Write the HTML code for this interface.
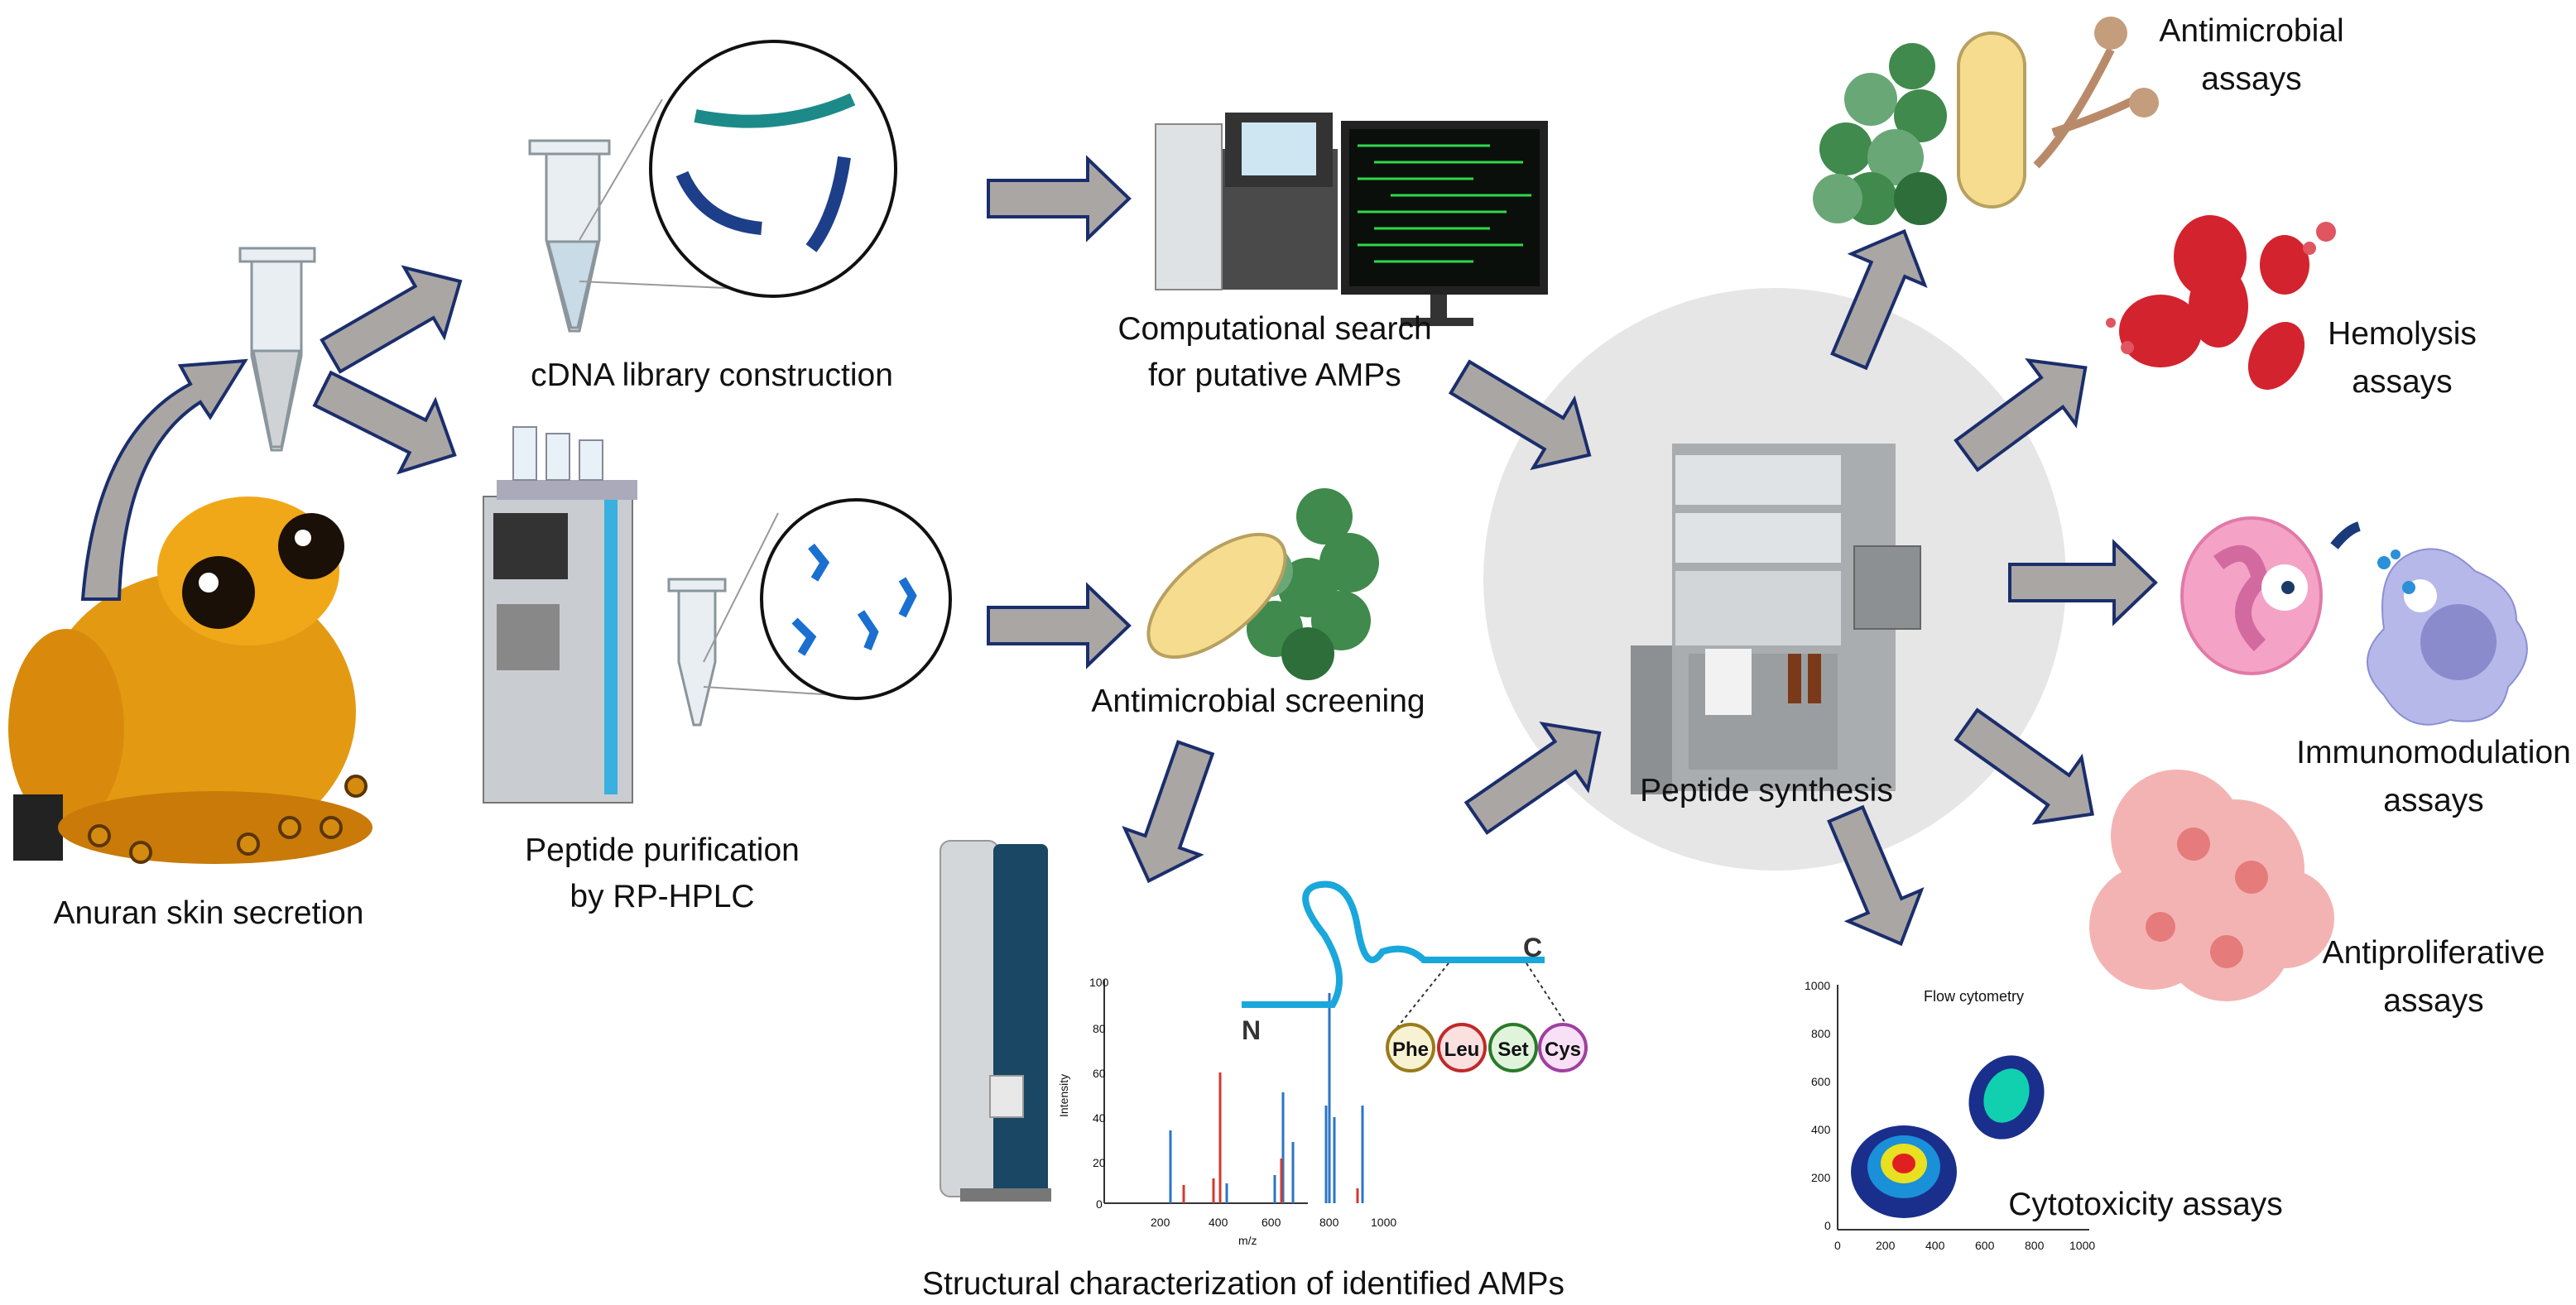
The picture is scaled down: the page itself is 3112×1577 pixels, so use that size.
<!DOCTYPE html>
<html><head><meta charset="utf-8"><style>
html,body{margin:0;padding:0;background:#fff;width:3112px;height:1577px;overflow:hidden}
svg{display:block}
text{font-family:"Liberation Sans",sans-serif;fill:#111}
.lb{font-size:19.5px;text-anchor:middle}
.ar path{fill:#aaa6a4;stroke:#1b2e6c;stroke-width:2;stroke-linejoin:miter}
</style></head><body>
<svg width="3112" height="1577" viewBox="0 0 1556 788.5" preserveAspectRatio="none">
<!-- central circle -->
<circle cx="1072" cy="350" r="176" fill="#e6e6e6"/>

<!-- frog -->
<g>
<ellipse cx="120" cy="430" rx="95" ry="85" fill="#e39a12"/>
<ellipse cx="150" cy="345" rx="55" ry="45" fill="#f0a818"/>
<circle cx="132" cy="358" r="22" fill="#1a1008"/><circle cx="188" cy="330" r="20" fill="#1a1008"/>
<circle cx="126" cy="352" r="6" fill="#fff"/><circle cx="183" cy="325" r="5" fill="#fff"/>
<ellipse cx="40" cy="440" rx="35" ry="60" fill="#d98a0c"/>
<rect x="8" y="480" width="30" height="40" fill="#222"/>
<ellipse cx="130" cy="500" rx="95" ry="22" fill="#c97a08"/>
<g fill="#d58b10" stroke="#5a3505" stroke-width="2"><circle cx="60" cy="505" r="6"/><circle cx="85" cy="515" r="6"/><circle cx="150" cy="510" r="6"/><circle cx="175" cy="500" r="6"/><circle cx="215" cy="475" r="6"/><circle cx="200" cy="500" r="6"/></g>
</g>

<!-- tube left -->
<g fill="#e8eef2" stroke="#8a959c" stroke-width="1.5">
<rect x="145" y="150" width="45" height="8"/>
<path d="M152,158 L182,158 L182,215 L170,272 L164,272 L152,215 Z"/>
<path d="M153,212 L181,212 L170,270 L164,270 Z" fill="#cfd3d6"/>
</g>
<!-- tube cDNA -->
<g fill="#e8eef2" stroke="#8a959c" stroke-width="1.5">
<rect x="320" y="85" width="48" height="8"/>
<path d="M330,93 L362,93 L362,145 L350,200 L344,200 L330,145 Z"/>
<path d="M331,146 L361,146 L349,198 L345,198Z" fill="#c8dbe6"/>
</g>
<line x1="350" y1="145" x2="400" y2="60" stroke="#999" stroke-width="1"/>
<line x1="350" y1="170" x2="460" y2="175" stroke="#999" stroke-width="1"/>
<ellipse cx="467" cy="102" rx="74" ry="77" fill="#fff" stroke="#111" stroke-width="2"/>
<g fill="none" stroke-width="8">
<path d="M420,70 Q470,80 515,60" stroke="#1d8a8a"/>
<path d="M412,105 Q425,135 460,138" stroke="#1d3f8a"/>
<path d="M510,95 Q505,130 490,150" stroke="#1d3f8a"/>
</g>

<!-- HPLC -->
<g>
<rect x="292" y="300" width="90" height="185" fill="#c9cdd1" stroke="#777"/>
<rect x="298" y="310" width="45" height="40" fill="#333"/>
<rect x="300" y="365" width="38" height="40" fill="#888"/>
<rect x="365" y="300" width="8" height="180" fill="#3ab0e0"/>
<rect x="300" y="290" width="85" height="12" fill="#aab"/>
<g fill="#e8f0f8" stroke="#889"><rect x="310" y="258" width="14" height="32"/><rect x="330" y="262" width="14" height="28"/><rect x="350" y="266" width="14" height="24"/></g>
</g>
<g fill="#e8eef2" stroke="#8a959c" stroke-width="1.5">
<rect x="404" y="350" width="34" height="7"/>
<path d="M410,357 L432,357 L432,400 L423,438 L419,438 L410,400Z"/>
</g>
<line x1="425" y1="400" x2="470" y2="310" stroke="#999"/><line x1="425" y1="415" x2="505" y2="420" stroke="#999"/>
<ellipse cx="517" cy="362" rx="57" ry="60" fill="#fff" stroke="#111" stroke-width="2"/>
<g fill="none" stroke="#1a6fd0" stroke-width="5"><path d="M490,330 l8,10 l-6,10"/><path d="M480,375 l10,10 l-6,10"/><path d="M520,370 l8,12 l-4,10"/><path d="M545,350 l6,10 l-6,12"/></g>

<!-- computer -->
<g>
<rect x="698" y="90" width="110" height="85" fill="#4a4a4a"/>
<rect x="698" y="75" width="40" height="100" fill="#dfe2e5" stroke="#888"/>
<rect x="740" y="68" width="65" height="45" fill="#333"/><rect x="750" y="74" width="45" height="32" fill="#cde6f2"/>
<rect x="810" y="73" width="125" height="105" fill="#222"/>
<rect x="815" y="78" width="115" height="95" fill="#0b0f0b"/>
<g stroke="#2fd84a" stroke-width="1.5"><line x1="820" y1="88" x2="900" y2="88"/><line x1="830" y1="98" x2="920" y2="98"/><line x1="820" y1="108" x2="890" y2="108"/><line x1="840" y1="118" x2="925" y2="118"/><line x1="820" y1="128" x2="910" y2="128"/><line x1="830" y1="138" x2="900" y2="138"/><line x1="820" y1="148" x2="920" y2="148"/><line x1="830" y1="158" x2="890" y2="158"/></g>
<rect x="864" y="178" width="10" height="15" fill="#333"/><rect x="846" y="192" width="44" height="5" fill="#333"/>
</g>

<!-- antimicrobial screening -->
<g fill="#3f8a4c"><circle cx="800" cy="312" r="17"/><circle cx="815" cy="340" r="18"/><circle cx="790" cy="355" r="18"/><circle cx="810" cy="375" r="18"/><circle cx="770" cy="380" r="17"/><circle cx="790" cy="395" r="16" fill="#2d6e3a"/><circle cx="765" cy="345" r="16" fill="#6aa777"/></g>
<ellipse cx="735" cy="360" rx="24" ry="50" transform="rotate(50 735 360)" fill="#f5dc8e" stroke="#b8a060" stroke-width="2"/>

<!-- synthesizer -->
<g>
<rect x="1010" y="268" width="135" height="210" fill="#a9adb0"/>
<rect x="1012" y="275" width="100" height="30" fill="#e0e3e6"/>
<rect x="1012" y="310" width="100" height="30" fill="#e0e3e6"/>
<rect x="1012" y="345" width="100" height="45" fill="#d3d6d9"/>
<rect x="1120" y="330" width="40" height="50" fill="#8c9093" stroke="#666"/>
<rect x="985" y="390" width="25" height="90" fill="#8c9093"/>
<rect x="1020" y="395" width="90" height="70" fill="#9a9ea1"/>
<rect x="1030" y="392" width="28" height="40" fill="#f2f2f2"/>
<rect x="1080" y="395" width="8" height="30" fill="#7a3a1a"/><rect x="1092" y="395" width="8" height="30" fill="#7a3a1a"/>
</g>

<!-- antimicrobial assays -->
<g fill="#3f8a4c"><circle cx="1155" cy="40" r="14"/><circle cx="1130" cy="60" r="16" fill="#6aa777"/><circle cx="1160" cy="70" r="16"/><circle cx="1115" cy="90" r="16"/><circle cx="1145" cy="95" r="17" fill="#6aa777"/><circle cx="1130" cy="120" r="16"/><circle cx="1160" cy="120" r="16" fill="#2d6e3a"/><circle cx="1110" cy="120" r="15" fill="#6aa777"/></g>
<rect x="1183" y="20" width="40" height="105" rx="20" fill="#f5dc8e" stroke="#b8a060" stroke-width="2"/>
<g stroke="#b98a6a" stroke-width="5" fill="none"><path d="M1230,100 Q1250,80 1275,30"/><path d="M1240,80 Q1270,70 1290,60"/></g>
<circle cx="1275" cy="20" r="10" fill="#c49d7c"/><circle cx="1295" cy="62" r="9" fill="#c49d7c"/>

<!-- RBCs -->
<g fill="#d3232e"><ellipse cx="1335" cy="155" rx="22" ry="25"/><ellipse cx="1305" cy="200" rx="25" ry="22"/><ellipse cx="1340" cy="185" rx="18" ry="25"/><ellipse cx="1375" cy="215" rx="15" ry="22" transform="rotate(30 1375 215)"/><ellipse cx="1380" cy="160" rx="15" ry="18"/></g>
<g fill="#e05560"><circle cx="1285" cy="210" r="4"/><circle cx="1275" cy="195" r="3"/><circle cx="1405" cy="140" r="6"/><circle cx="1395" cy="150" r="4"/></g>

<!-- immune cells -->
<ellipse cx="1360" cy="360" rx="42" ry="47" fill="#f4a2c6" stroke="#e07aa8" stroke-width="2"/>
<path d="M1340,340 q20,-15 25,10 q-20,20 0,40" fill="none" stroke="#d26aa0" stroke-width="10"/>
<circle cx="1380" cy="355" r="14" fill="#fff"/><circle cx="1382" cy="355" r="4" fill="#1a3a6a"/>
<path d="M1455,335 q20,-10 40,10 q25,10 25,30 q15,20 -5,40 q-5,25 -35,20 q-25,10 -40,-15 q-20,-20 0,-40 q-5,-35 15,-45z" fill="#b6b8ea" stroke="#8c8fd2"/>
<circle cx="1485" cy="388" r="23" fill="#8a8bcc"/>
<circle cx="1462" cy="360" r="10" fill="#fff"/>
<g fill="#2a90d8"><circle cx="1440" cy="340" r="4"/><circle cx="1455" cy="355" r="4"/><circle cx="1447" cy="335" r="3"/></g>
<path d="M1410,330 q8,-10 15,-12" stroke="#1a3a7a" stroke-width="6" fill="none"/>

<!-- cancer cells -->
<g fill="#f2a6a6" opacity="0.85"><circle cx="1315" cy="505" r="40"/><circle cx="1350" cy="525" r="42"/><circle cx="1300" cy="560" r="38"/><circle cx="1345" cy="565" r="40"/><circle cx="1380" cy="555" r="30"/></g>
<g fill="#e57b7b"><circle cx="1325" cy="510" r="10"/><circle cx="1360" cy="530" r="10"/><circle cx="1305" cy="560" r="9"/><circle cx="1345" cy="575" r="10"/></g>

<!-- mass spec instrument -->
<rect x="568" y="508" width="35" height="215" rx="6" fill="#d4d7da" stroke="#999"/>
<rect x="600" y="510" width="33" height="212" rx="4" fill="#1a4763"/>
<rect x="598" y="650" width="20" height="25" fill="#e8e8e8" stroke="#999"/>
<rect x="580" y="718" width="55" height="8" fill="#777"/>
<!-- MS chart -->
<g font-size="7" fill="#555">
<line x1="667" y1="592" x2="667" y2="727" stroke="#333"/><line x1="667" y1="727" x2="790" y2="727" stroke="#333"/>
<text x="658" y="596" font-size="7">100</text><text x="660" y="624" font-size="7">80</text><text x="660" y="651" font-size="7">60</text><text x="660" y="678" font-size="7">40</text><text x="660" y="705" font-size="7">20</text><text x="662" y="730" font-size="7">0</text>
<text x="695" y="741" font-size="7">200</text><text x="730" y="741" font-size="7">400</text><text x="762" y="741" font-size="7">600</text><text x="797" y="741" font-size="7">800</text><text x="828" y="741" font-size="7">1000</text>
<text x="748" y="752" font-size="7">m/z</text>
<text x="645" y="675" font-size="7" transform="rotate(-90 645 675)">Intensity</text>
</g>
<g stroke="#2b74c7" stroke-width="1.5"><line x1="707" y1="727" x2="707" y2="683"/><line x1="775" y1="727" x2="775" y2="660"/><line x1="781" y1="727" x2="781" y2="690"/><line x1="803" y1="727" x2="803" y2="600"/><line x1="801" y1="727" x2="801" y2="668"/><line x1="806" y1="727" x2="806" y2="675"/><line x1="823" y1="727" x2="823" y2="668"/><line x1="741" y1="727" x2="741" y2="715"/><line x1="770" y1="727" x2="770" y2="710"/></g>
<g stroke="#d23a2e" stroke-width="1.5"><line x1="737" y1="727" x2="737" y2="648"/><line x1="715" y1="727" x2="715" y2="716"/><line x1="733" y1="727" x2="733" y2="712"/><line x1="774" y1="727" x2="774" y2="700"/><line x1="820" y1="727" x2="820" y2="718"/></g>
<!-- peptide -->
<path d="M750,607 L805,607 Q815,590 800,565 Q780,540 795,535 Q815,530 820,560 Q825,590 835,575 Q850,570 860,580 L933,580" fill="none" stroke="#1aa7dc" stroke-width="4"/>
<text x="750" y="628" font-size="16" font-weight="bold" style="fill:#333">N</text>
<text x="920" y="578" font-size="16" font-weight="bold" style="fill:#333">C</text>
<g stroke="#333" stroke-dasharray="2,2"><line x1="875" y1="582" x2="843" y2="622"/><line x1="922" y1="582" x2="948" y2="622"/></g>
<g font-size="12" font-weight="bold" text-anchor="middle">
<circle cx="852" cy="633" r="14" fill="#f7f2d2" stroke="#9a7a1a" stroke-width="2"/><text x="852" y="638">Phe</text>
<circle cx="883" cy="633" r="14" fill="#fbe0e0" stroke="#c02a2a" stroke-width="2"/><text x="883" y="638">Leu</text>
<circle cx="914" cy="633" r="14" fill="#e0f4dc" stroke="#2a7a2a" stroke-width="2"/><text x="914" y="638">Set</text>
<circle cx="944" cy="633" r="14" fill="#f8e0f6" stroke="#a040a0" stroke-width="2"/><text x="944" y="638">Cys</text>
</g>
<!-- flow cytometry -->
<g font-size="7" fill="#555">
<line x1="1110" y1="595" x2="1110" y2="743" stroke="#333"/><line x1="1110" y1="743" x2="1262" y2="743" stroke="#333"/>
<text x="1090" y="598" font-size="7">1000</text><text x="1094" y="627" font-size="7">800</text><text x="1094" y="656" font-size="7">600</text><text x="1094" y="685" font-size="7">400</text><text x="1094" y="714" font-size="7">200</text><text x="1102" y="743" font-size="7">0</text>
<text x="1108" y="755" font-size="7">0</text><text x="1133" y="755" font-size="7">200</text><text x="1163" y="755" font-size="7">400</text><text x="1193" y="755" font-size="7">600</text><text x="1223" y="755" font-size="7">800</text><text x="1250" y="755" font-size="7">1000</text>
<text x="1162" y="605" font-size="9" style="fill:#111">Flow cytometry</text>
</g>
<ellipse cx="1150" cy="708" rx="32" ry="28" fill="#1a2f8c"/><ellipse cx="1150" cy="705" rx="22" ry="19" fill="#1a90d8"/><ellipse cx="1150" cy="703" rx="14" ry="12" fill="#e8e020"/><ellipse cx="1150" cy="703" rx="7" ry="6" fill="#e02020"/>
<ellipse cx="1212" cy="663" rx="22" ry="26" fill="#1a2f8c" transform="rotate(25 1212 663)"/><ellipse cx="1212" cy="662" rx="13" ry="17" fill="#10d0b0" transform="rotate(25 1212 662)"/>

<!-- arrows -->
<g class="ar">
<path d="M50,362 Q58,262 115,232 L109,221 L148,218 L127,252 L121,243 Q75,272 72,362 Z" style="fill:#aaa6a4;stroke:#1b2e6c;stroke-width:2"/>
<g transform="translate(200,215) rotate(-30)"><path d="M0,-11 L65,-11 L65,-24 L90,0 L65,24 L65,11 L0,11Z"/></g>
<g transform="translate(195,235) rotate(26.6)"><path d="M0,-11 L64,-11 L64,-24 L89,0 L64,24 L64,11 L0,11Z"/></g>
<g transform="translate(597,120)"><path d="M0,-11 L60,-11 L60,-24 L85,0 L60,24 L60,11 L0,11Z"/></g>
<g transform="translate(597,378)"><path d="M0,-11 L60,-11 L60,-24 L85,0 L60,24 L60,11 L0,11Z"/></g>
<g transform="translate(882,228) rotate(31)"><path d="M0,-11 L66,-11 L66,-24 L91,0 L66,24 L66,11 L0,11Z"/></g>
<g transform="translate(722,452) rotate(109.3)"><path d="M0,-11 L60,-11 L60,-24 L85,0 L60,24 L60,11 L0,11Z"/></g>
<g transform="translate(892,494) rotate(-34.6)"><path d="M0,-11 L65,-11 L65,-24 L90,0 L65,24 L65,11 L0,11Z"/></g>
<g transform="translate(1117,218) rotate(-67)"><path d="M0,-11 L60,-11 L60,-24 L85,0 L60,24 L60,11 L0,11Z"/></g>
<g transform="translate(1188,275) rotate(-36.4)"><path d="M0,-11 L64,-11 L64,-24 L89,0 L64,24 L64,11 L0,11Z"/></g>
<g transform="translate(1214,352)"><path d="M0,-11 L63,-11 L63,-24 L88,0 L63,24 L63,11 L0,11Z"/></g>
<g transform="translate(1188,438) rotate(35.4)"><path d="M0,-11 L68,-11 L68,-24 L93,0 L68,24 L68,11 L0,11Z"/></g>
<g transform="translate(1115,492) rotate(67)"><path d="M0,-11 L60,-11 L60,-24 L85,0 L60,24 L60,11 L0,11Z"/></g>
</g>

<!-- labels -->
<text class="lb" x="126" y="558">Anuran skin secretion</text>
<text class="lb" x="430" y="233">cDNA library construction</text>
<text class="lb" x="400" y="520">Peptide purification</text>
<text class="lb" x="400" y="548">by RP-HPLC</text>
<text class="lb" x="770" y="205">Computational search</text>
<text class="lb" x="770" y="233">for putative AMPs</text>
<text class="lb" x="760" y="430">Antimicrobial screening</text>
<text class="lb" x="1067" y="484">Peptide synthesis</text>
<text class="lb" x="1360" y="25">Antimicrobial</text>
<text class="lb" x="1360" y="54">assays</text>
<text class="lb" x="1451" y="208">Hemolysis</text>
<text class="lb" x="1451" y="237">assays</text>
<text class="lb" x="1470" y="461">Immunomodulation</text>
<text class="lb" x="1470" y="490">assays</text>
<text class="lb" x="1470" y="582">Antiproliferative</text>
<text class="lb" x="1470" y="611">assays</text>
<text class="lb" x="1296" y="734">Cytotoxicity assays</text>
<text class="lb" x="751" y="782">Structural characterization of identified AMPs</text>
</svg>
</body></html>
